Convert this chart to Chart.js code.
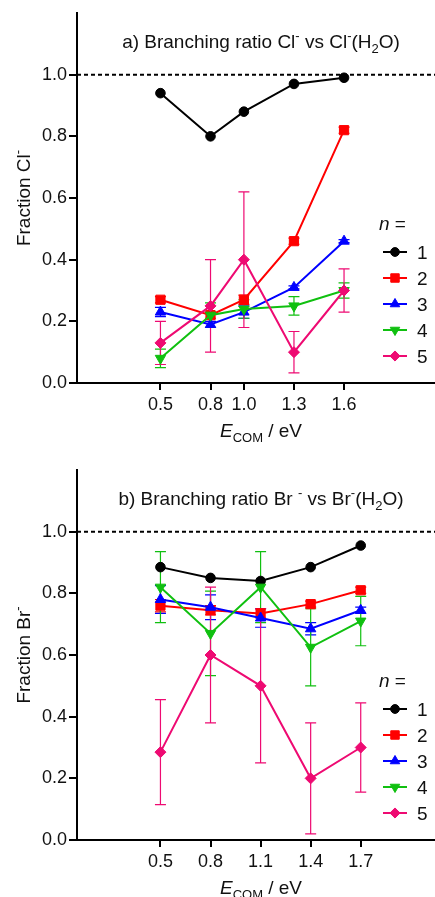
<!DOCTYPE html>
<html><head><meta charset="utf-8">
<script src="https://cdn.jsdelivr.net/npm/chart.js@4.4.1/dist/chart.umd.min.js"></script>
<style>
html,body{margin:0;padding:0;background:#fff;overflow:hidden;}
#wrap{position:relative;width:435px;height:897px;background:#fff;overflow:hidden;}
canvas{position:absolute;left:0;}
</style></head><body>
<div id="wrap">
<canvas id="ca" width="443" height="457" style="top:0"></canvas>
<canvas id="cb" width="443" height="440" style="top:457px"></canvas>
</div>
<script>
// ---------- DATA ----------
const clusterSizes = ['1', '2', '3', '4', '5'];
const energyCl = [0.5, 0.8, 1.0, 1.3, 1.6];
const energyBr = [0.5, 0.8, 1.1, 1.4, 1.7];
const yTickValues = [0, 0.2, 0.4, 0.6, 0.8, 1.0];
const referenceLevel = 1.0;

// a) Cl- fraction
const clN1 = [0.94, 0.80, 0.88, 0.97, 0.99];
const clN2 = [0.27, 0.22, 0.27, 0.46, 0.82];
const clN3 = [0.23, 0.19, 0.23, 0.31, 0.46];
const clN4 = [0.08, 0.22, 0.24, 0.25, 0.30];
const clN5 = [0.13, 0.25, 0.40, 0.10, 0.30];
const clErr1 = [0, 0, 0, 0, 0];
const clErr2 = [0.01, 0.01, 0.015, 0.01, 0.01];
const clErr3 = [0.015, 0.01, 0.02, 0.005, 0.005];
const clErr4 = [0.03, 0.04, 0.03, 0.03, 0.025];
const clErr5 = [0.07, 0.15, 0.22, 0.067, 0.07];

// b) Br- fraction
const brN1 = [0.885, 0.85, 0.84, 0.885, 0.955];
const brN2 = [0.76, 0.745, 0.735, 0.765, 0.81];
const brN3 = [0.78, 0.755, 0.72, 0.685, 0.745];
const brN4 = [0.82, 0.67, 0.82, 0.625, 0.71];
const brN5 = [0.285, 0.60, 0.50, 0.20, 0.30];
const brErr1 = [0, 0, 0, 0, 0];
const brErr2 = [0.02, 0.015, 0.015, 0.01, 0.01];
const brErr3 = [0.045, 0.04, 0.03, 0.02, 0.01];
const brErr4 = [0.115, 0.137, 0.115, 0.125, 0.08];
const brErr5 = [0.17, 0.22, 0.25, 0.18, 0.145];

// ---------- STYLE ----------
const FONT = '"Liberation Sans", Arial, Helvetica, sans-serif';
const TXT = '#111';
const seriesStyle = [
  {color: '#000000', style: 'circle',   rot: 0,   r: 4.8},
  {color: '#FF0000', style: 'rect',     rot: 0,   r: 6.5},
  {color: '#0000FF', style: 'triangle', rot: 0,   r: 6},
  {color: '#10C010', style: 'triangle', rot: 180, r: 6},
  {color: '#EE0A72', style: 'rectRot',  rot: 0,   r: 5.5}
];
const X_MAX = 2.148;

function drawRich(ctx, segs, x, y, size, align) {
  const parts = segs.map(s => {
    const small = s.sub || s.sup;
    const fs = small ? Math.round(size * 0.68) : size;
    const font = (s.it ? 'italic ' : '') + fs + 'px ' + FONT;
    ctx.font = font;
    return {t: s.t, font, w: ctx.measureText(s.t).width,
      dy: s.sup ? -size * 0.42 : (s.sub ? size * 0.27 : 0)};
  });
  const total = parts.reduce((a, p) => a + p.w, 0);
  let cx = align === 'center' ? x - total / 2 : (align === 'right' ? x - total : x);
  ctx.textBaseline = 'alphabetic';
  ctx.textAlign = 'left';
  for (const p of parts) { ctx.font = p.font; ctx.fillText(p.t, cx, y + p.dy); cx += p.w; }
}

const errorBarPlugin = {
  id: 'errbars',
  beforeDatasetsDraw(chart, args, opts) {
    const ctx = chart.ctx, xs = chart.scales.x, ys = chart.scales.y;
    ctx.save();
    opts.errors.forEach((errs, di) => {
      const ds = chart.data.datasets[di];
      ctx.strokeStyle = ds.borderColor;
      ctx.lineWidth = 1.2;
      ds.data.forEach((pt, i) => {
        const e = errs[i];
        if (!e) return;
        const px = xs.getPixelForValue(pt.x);
        const pTop = ys.getPixelForValue(pt.y + e);
        const pBot = ys.getPixelForValue(pt.y - e);
        ctx.beginPath();
        ctx.moveTo(px, pTop); ctx.lineTo(px, pBot);
        ctx.moveTo(px - 5.5, pTop); ctx.lineTo(px + 5.5, pTop);
        ctx.moveTo(px - 5.5, pBot); ctx.lineTo(px + 5.5, pBot);
        ctx.stroke();
      });
    });
    ctx.restore();
  }
};

const textPlugin = {
  id: 'texts',
  afterDraw(chart, args, opts) {
    const ctx = chart.ctx, ca = chart.chartArea;
    ctx.save();
    ctx.fillStyle = TXT;
    drawRich(ctx, opts.title, 261, ca.top + 35, 19, 'center');
    ctx.save();
    ctx.translate(30, (ca.top + ca.bottom) / 2);
    ctx.rotate(-Math.PI / 2);
    drawRich(ctx, opts.ytitle, 0, 0, 19, 'center');
    ctx.restore();
    drawRich(ctx, [{t: 'E', it: true}, {t: 'COM', sub: true}, {t: ' / eV'}], 261, ca.bottom + 54, 19, 'center');
    const ly0 = ca.top + 239;
    drawRich(ctx, [{t: 'n', it: true}, {t: ' ='}], 379, ca.top + 217, 19, 'left');
    clusterSizes.forEach((lab, i) => {
      const y = ly0 + 26 * i;
      const st = seriesStyle[i];
      ctx.strokeStyle = st.color; ctx.fillStyle = st.color; ctx.lineWidth = 2;
      ctx.beginPath(); ctx.moveTo(383, y); ctx.lineTo(407, y); ctx.stroke();
      ctx.lineWidth = 1;
      Chart.helpers.drawPoint(ctx, {pointStyle: st.style, rotation: st.rot, radius: st.r * 0.92, borderWidth: 1}, 395, y);
      ctx.fillStyle = TXT;
      drawRich(ctx, [{t: lab}], 417, y + 7, 19, 'left');
    });
    ctx.restore();
  }
};

function makeChart(canvasId, energies, series, errors, xTicks, title, ytitle) {
  const H = document.getElementById(canvasId).height;
  const datasets = series.map((vals, i) => ({
    label: clusterSizes[i],
    data: energies.map((x, j) => ({x, y: vals[j]})),
    borderColor: seriesStyle[i].color,
    backgroundColor: seriesStyle[i].color,
    pointStyle: seriesStyle[i].style,
    rotation: seriesStyle[i].rot,
    pointRadius: seriesStyle[i].r,
    pointBorderWidth: 1,
    borderWidth: 2,
    tension: 0,
    order: 5 - i
  }));
  datasets.push({
    label: 'ref',
    data: [{x: 0, y: referenceLevel}, {x: X_MAX, y: referenceLevel}],
    borderColor: '#000', borderWidth: 2, borderDash: [4, 3],
    pointRadius: 0, order: 10
  });
  return new Chart(document.getElementById(canvasId), {
    type: 'line',
    data: {datasets},
    options: {
      responsive: false, animation: false, events: [],
      layout: {padding: {top: 13, right: 0, bottom: 0, left: 0}},
      plugins: {legend: {display: false}, tooltip: {enabled: false},
        errbars: {errors}, texts: {title, ytitle}},
      scales: {
        x: {
          type: 'linear', min: 0, max: X_MAX,
          afterBuildTicks: s => { s.ticks = xTicks.map(v => ({value: v})); },
          afterFit: s => { s.height = H - 383; },
          border: {display: true, color: '#000', width: 2},
          grid: {drawOnChartArea: false, drawTicks: true, tickLength: 7, color: '#000', lineWidth: 2},
          ticks: {autoSkip: false, maxRotation: 0, padding: 4, color: TXT,
            font: {family: FONT, size: 18}, callback: v => Number(v).toFixed(1)}
        },
        y: {
          type: 'linear', min: 0, max: 1.2,
          afterBuildTicks: s => { s.ticks = yTickValues.map(v => ({value: v})); },
          afterFit: s => { s.width = 77; },
          border: {display: true, color: '#000', width: 2},
          grid: {drawOnChartArea: false, drawTicks: true, tickLength: 8, color: '#000', lineWidth: 2},
          ticks: {padding: 2, color: TXT, font: {family: FONT, size: 18},
            callback: v => Number(v).toFixed(1)}
        }
      }
    },
    plugins: [errorBarPlugin, textPlugin]
  });
}

makeChart('ca', energyCl, [clN1, clN2, clN3, clN4, clN5],
  [clErr1, clErr2, clErr3, clErr4, clErr5], energyCl,
  [{t: 'a) Branching ratio Cl'}, {t: '-', sup: true}, {t: ' vs Cl'}, {t: '-', sup: true}, {t: '(H'}, {t: '2', sub: true}, {t: 'O)'}],
  [{t: 'Fraction Cl'}, {t: '-', sup: true}]);

makeChart('cb', energyBr, [brN1, brN2, brN3, brN4, brN5],
  [brErr1, brErr2, brErr3, brErr4, brErr5], energyBr,
  [{t: 'b) Branching ratio Br'}, {t: ' '}, {t: '-', sup: true}, {t: ' vs Br'}, {t: '-', sup: true}, {t: '(H'}, {t: '2', sub: true}, {t: 'O)'}],
  [{t: 'Fraction Br'}, {t: '-', sup: true}]);
</script>
</body></html>
